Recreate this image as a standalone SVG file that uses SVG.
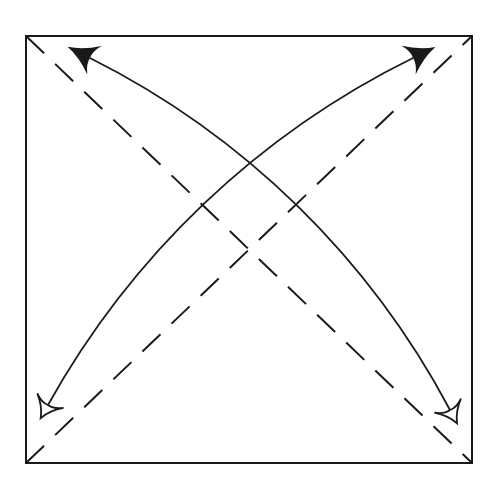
<svg xmlns="http://www.w3.org/2000/svg" width="500" height="500" viewBox="0 0 500 500">
  <style>
    .paper { fill: #ffffff; stroke: #1a1a1a; stroke-width: 2; }
    .valley { fill: none; stroke: #1a1a1a; stroke-width: 2; stroke-dasharray: 25 15.3; }
    .arrow { fill: none; stroke: #1a1a1a; stroke-width: 1.8; marker-start: url(#unfold); marker-end: url(#fold); }
  </style>
  <defs>
    <marker id="fold" markerUnits="userSpaceOnUse" orient="auto" refX="0" refY="0" markerWidth="40" markerHeight="40" overflow="visible">
      <path d="M25,0 Q10,-4 -5,-16 Q1,-7 0,0 Q1,7 -5,16 Q10,4 25,0 Z" fill="#1a1a1a" stroke="none"/>
    </marker>
    <marker id="unfold" markerUnits="userSpaceOnUse" orient="auto-start-reverse" refX="0" refY="0" markerWidth="40" markerHeight="40" overflow="visible">
      <path d="M15,0 Q4,-4 -5,-15 Q1,-7 0,0 Q1,7 -5,15 Q4,4 15,0 Z" fill="#ffffff" stroke="#1a1a1a" stroke-width="1.8" stroke-linejoin="miter"/>
    </marker>
  </defs>
  <g id="paper">
    <rect class="paper" x="26" y="36" width="446" height="427"/>
  </g>
  <g id="folds">
    <line class="valley" x1="26" y1="36" x2="472" y2="463"/>
    <line class="valley" x1="26" y1="463" x2="472" y2="36"/>
  </g>
  <g id="connectors">
    <path id="arrow-bl-tr" class="arrow" d="M48,405 A844,844 0 0 1 413,58"/>
    <path id="arrow-br-tl" class="arrow" d="M450,410 A827,827 0 0 0 90,58"/>
  </g>
</svg>
